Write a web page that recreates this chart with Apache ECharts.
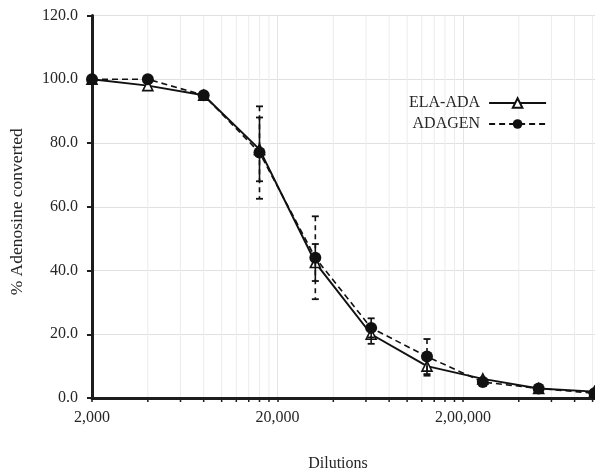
<!DOCTYPE html>
<html>
<head>
<meta charset="utf-8">
<script src="https://cdn.jsdelivr.net/npm/echarts@6/dist/echarts.min.js"></script>
<style>
html,body{margin:0;padding:0;background:#fff;}
#chart{width:595px;height:471px;}
</style>
</head>
<body>
<div id="chart"></div>
<script>
// ---- data ----
const dilutions = [2000, 4000, 8000, 16000, 32000, 64000, 128000, 256000, 512000, 1024000];
const elaAda = [100, 98, 95, 78, 42.5, 20, 10, 6, 3, 2];
const elaAdaErr = [0, 0, 0, 10, 5.8, 3, 3, 0, 0, 0];
const adagen = [100, 100, 95, 77, 44, 22, 13, 5, 3, 1.5];
const adagenErr = [0, 0, 0, 14.5, 13, 3, 5.5, 0, 0, 0];
const xTickLabels = ['2,000', '20,000', '2,00,000'];
const seriesNames = ['ELA-ADA', 'ADAGEN'];
const xBase = 2000;

// ---- helpers ----
const toX = d => Math.log10(d / xBase);
const FONT = '"Liberation Serif", "Times New Roman", serif';
const TXT = '#262626';
const AX = '#1e1c1d';

// minor log grid positions (multiples of base within each decade)
const minorVals = [];
for (let dec = 0; dec < 3; dec++) {
  for (let k = 2; k <= 9; k++) {
    const v = xBase * Math.pow(10, dec) * k;
    if (toX(v) < 2.712) minorVals.push([toX(v), 0]);
  }
}

const elaData = dilutions.map((d, i) => [toX(d), elaAda[i]]);
const adaData = dilutions.map((d, i) => [toX(d), adagen[i]]);
const elaErrData = dilutions.map((d, i) => [toX(d), elaAda[i], elaAdaErr[i]]).filter(r => r[2] > 0);
const adaErrData = dilutions.map((d, i) => [toX(d), adagen[i], adagenErr[i]]).filter(r => r[2] > 0);

function errRender(dashed) {
  return function (params, api) {
    const x = api.value(0), y = api.value(1), e = api.value(2);
    const top = api.coord([x, y + e]);
    const bot = api.coord([x, y - e]);
    const w = 3.5;
    const style = { stroke: '#111', lineWidth: 1.6, lineDash: dashed ? [5, 4] : null };
    return {
      type: 'group',
      children: [
        { type: 'line', shape: { x1: top[0], y1: top[1], x2: bot[0], y2: bot[1] }, style: style },
        { type: 'line', shape: { x1: top[0] - w, y1: top[1], x2: top[0] + w, y2: top[1] }, style: { stroke: '#111', lineWidth: 1.8 } },
        { type: 'line', shape: { x1: bot[0] - w, y1: bot[1], x2: bot[0] + w, y2: bot[1] }, style: { stroke: '#111', lineWidth: 1.8 } }
      ]
    };
  };
}

const chart = echarts.init(document.getElementById('chart'), null, { renderer: 'canvas' });
chart.setOption({
  animation: false,
  backgroundColor: '#ffffff',
  textStyle: { fontFamily: FONT },
  grid: { left: 92, right: 0, top: 15.5, bottom: 73, containLabel: false, outerBoundsMode: 'none' },
  legend: {
    data: seriesNames,
    orient: 'vertical',
    left: 404,
    top: 90,
    align: 'right',
    itemWidth: 57,
    itemHeight: 12,
    itemGap: 5,
    textStyle: { fontFamily: FONT, fontSize: 16, color: TXT, padding: [0, 4, 0, 0] }
  },
  xAxis: {
    type: 'value',
    min: 0,
    max: 2.712,
    interval: 1,
    name: 'Dilutions',
    nameLocation: 'middle',
    nameGap: 58,
    nameTextStyle: { fontFamily: FONT, fontSize: 16, color: TXT, padding: [0, 11, 0, 0] },
    axisLine: { lineStyle: { color: AX, width: 3 } },
    axisTick: { show: true, length: 4, lineStyle: { color: AX, width: 1.5 } },
    axisLabel: {
      fontFamily: FONT, fontSize: 16, color: TXT, margin: 12,
      showMaxLabel: false,
      formatter: function (v) {
        const i = Math.round(v);
        return Math.abs(v - i) < 1e-6 && xTickLabels[i] ? xTickLabels[i] : '';
      }
    },
    splitLine: { show: true, lineStyle: { color: '#e4e4e4', width: 1 } }
  },
  yAxis: {
    type: 'value',
    min: 0,
    max: 120,
    interval: 20,
    name: '% Adenosine converted',
    nameLocation: 'middle',
    nameRotate: 90,
    nameGap: 66,
    nameTextStyle: { fontFamily: FONT, fontSize: 17.5, color: TXT, padding: [0, 10, 0, 0] },
    axisLine: { show: true, lineStyle: { color: AX, width: 3 } },
    axisTick: { show: true, length: 5, lineStyle: { color: AX, width: 2 } },
    axisLabel: {
      fontFamily: FONT, fontSize: 16, color: TXT, margin: 14,
      formatter: v => v.toFixed(1)
    },
    splitLine: { show: true, lineStyle: { color: '#e0e0e0', width: 1 } }
  },
  series: [
    {
      name: 'minorGrid',
      type: 'custom',
      silent: true,
      z: 0,
      data: minorVals,
      renderItem: function (params, api) {
        const x = api.value(0);
        const p0 = api.coord([x, 0]);
        const p1 = api.coord([x, 120]);
        return {
          type: 'group',
          children: [
            { type: 'line', shape: { x1: p0[0], y1: p0[1], x2: p1[0], y2: p1[1] }, style: { stroke: '#ececec', lineWidth: 1 } },
            { type: 'line', shape: { x1: p0[0], y1: p0[1], x2: p0[0], y2: p0[1] + 4 }, style: { stroke: AX, lineWidth: 1.5 } }
          ]
        };
      }
    },
    {
      name: 'ELA-ADA',
      type: 'line',
      data: elaData,
      z: 3,
      symbol: 'triangle',
      symbolSize: 10,
      lineStyle: { color: '#111', width: 2, type: 'solid' },
      itemStyle: { color: '#ffffff', borderColor: '#111', borderWidth: 1.6 },
      clip: false
    },
    {
      name: 'ADAGEN',
      type: 'line',
      data: adaData,
      z: 4,
      symbol: 'circle',
      symbolSize: 12,
      lineStyle: { color: '#111', width: 1.6, type: [6, 4] },
      itemStyle: { color: '#111', borderColor: '#111', borderWidth: 0 },
      clip: false
    },
    {
      name: 'ELA-ADA err',
      type: 'custom',
      z: 5,
      silent: true,
      data: elaErrData,
      renderItem: errRender(false)
    },
    {
      name: 'ADAGEN err',
      type: 'custom',
      z: 5,
      silent: true,
      data: adaErrData,
      renderItem: errRender(true)
    }
  ]
});
</script>
</body>
</html>
